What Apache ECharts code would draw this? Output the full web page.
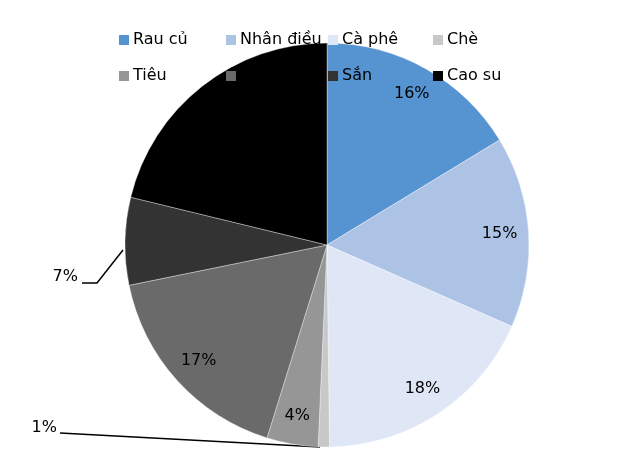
<!DOCTYPE html>
<html>
<head>
<meta charset="utf-8">
<script src="https://cdn.jsdelivr.net/npm/echarts@6/dist/echarts.min.js"></script>
<style>
  html, body { margin: 0; padding: 0; background: #fff; }
  #chart { width: 633px; height: 450px; }
</style>
</head>
<body>
<div id="chart"></div>
<script>
// dữ liệu
const categories = ['Rau củ', 'Nhân điều', 'Cà phê', 'Chè', 'Tiêu', ' ', 'Sắn', 'Cao su'];
const shares = [16.3, 15.3, 18.2, 0.9, 4.1, 17.0, 7.0, 21.2];
const colors = ['#5593d1', '#adc3e6', '#dfe7f7', '#c8c8c8', '#969696', '#6a6a6a', '#333333', '#000000'];
// nhãn nằm ngoài bánh
const outsideLabels = ['Chè', 'Sắn'];

const FONT = 'DejaVu Sans';
const chart = echarts.init(document.getElementById('chart'));

const pct = (p) => Math.round(p.percent) + '%';

const mainData = categories.map((name, i) => ({
  name,
  value: shares[i],
  itemStyle: { color: colors[i] },
  label: { show: outsideLabels.includes(name) },
  labelLine: { show: outsideLabels.includes(name) }
}));

// vòng trong suốt chỉ để đặt nhãn phần trăm gần mép (không tên, không vào chú giải)
const ringData = categories.map((name, i) => ({
  value: shares[i],
  label: { show: !outsideLabels.includes(name) }
}));

// chú giải 2 hàng x 4 cột
const legendCols = [119, 226, 328, 433];
const legendRows = [32, 68];
const legends = categories.map((name, i) => ({
  data: [{ name, itemStyle: { color: colors[i], borderWidth: 0 } }],
  left: legendCols[i % 4],
  top: legendRows[Math.floor(i / 4)],
  padding: 0,
  icon: 'rect',
  itemWidth: 10,
  itemHeight: 10,
  selectedMode: false,
  textStyle: { fontFamily: FONT, fontSize: 16, color: '#000', padding: [0, 0, 0, -1] }
}));

chart.setOption({
  animation: false,
  legend: legends,
  series: [
    {
      type: 'pie',
      center: [327, 245],
      radius: 202,
      startAngle: 90,
      clockwise: true,
      avoidLabelOverlap: false,
      itemStyle: { borderColor: 'rgba(255,255,255,0.6)', borderWidth: 0.6 },
      label: {
        position: 'outside',
        formatter: pct,
        fontFamily: FONT,
        fontSize: 16,
        color: '#000'
      },
      labelLine: { lineStyle: { color: '#000', width: 1.5 }, length: 10, length2: 10 },
      labelLayout: (params) => {
        const name = categories[params.dataIndex];
        if (name === 'Chè') {
          return {
            x: 57, y: 428, align: 'right', verticalAlign: 'middle',
            labelLinePoints: [[320, 447], [190, 440], [60, 433]]
          };
        }
        if (name === 'Sắn') {
          return {
            x: 78, y: 277, align: 'right', verticalAlign: 'middle',
            labelLinePoints: [[123, 250], [97, 283], [82, 283]]
          };
        }
        return {};
      },
      data: mainData
    },
    {
      type: 'pie',
      center: [327, 245],
      radius: [138, 202],
      startAngle: 90,
      clockwise: true,
      silent: true,
      legendHoverLink: false,
      itemStyle: { color: 'rgba(0,0,0,0)' },
      label: {
        position: 'inside',
        formatter: pct,
        fontFamily: FONT,
        fontSize: 16,
        color: '#000'
      },
      labelLine: { show: false },
      data: ringData
    }
  ]
});
</script>
</body>
</html>
